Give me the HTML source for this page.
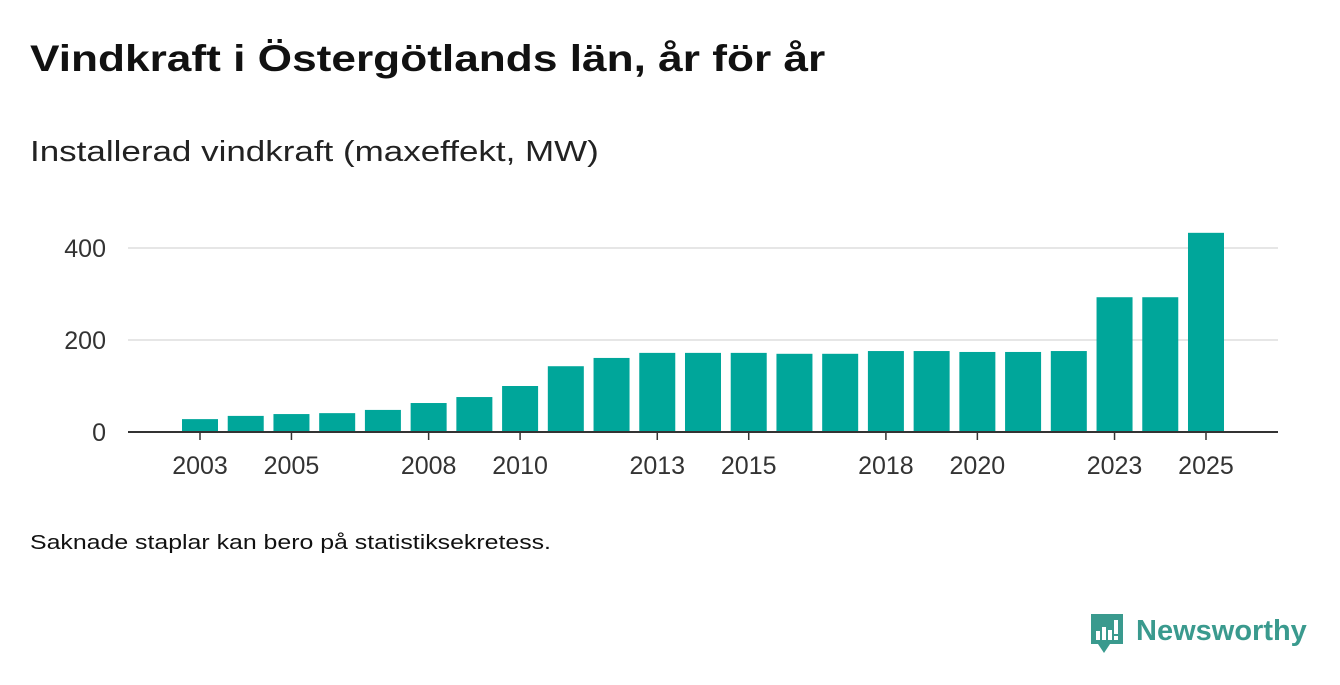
<!DOCTYPE html>
<html><head><meta charset="utf-8"><style>
body{margin:0;width:1340px;height:685px;background:#fff;font-family:"Liberation Sans",sans-serif;position:relative;overflow:hidden;color:#111}
#title{position:absolute;left:30px;top:38px;font-size:37px;font-weight:bold;margin:0;transform:scaleX(1.195);transform-origin:0 0;white-space:nowrap}
#sub{position:absolute;left:30px;top:136px;font-size:29px;color:#222;transform:scaleX(1.206);transform-origin:0 0;white-space:nowrap}
#note{position:absolute;left:30px;top:532px;font-size:20px;color:#111;transform:scaleX(1.243);transform-origin:0 0;white-space:nowrap}
#logo{position:absolute;left:1089px;top:612px}
</style></head><body>
<h1 id="title">Vindkraft i Östergötlands län, år för år</h1>
<div id="sub">Installerad vindkraft (maxeffekt, MW)</div>
<svg id="chart" width="1340" height="685" style="position:absolute;left:0;top:0"></svg>
<div id="note">Saknade staplar kan bero på statistiksekretess.</div>
<svg id="logo" width="230" height="45">
<path d="M2 2h32v30h-13l-6 9-6-9h-7z" fill="#3a9a8e"/>
<rect x="7" y="19" width="4" height="9" fill="#fff"/><rect x="13" y="15" width="4" height="13" fill="#fff"/><rect x="19" y="18" width="4" height="10" fill="#fff"/><rect x="25" y="8" width="4" height="14" fill="#fff"/><rect x="25" y="24" width="4" height="4" fill="#fff"/>
<text x="47" y="28" font-family="Liberation Sans" font-size="29" font-weight="bold" fill="#3a9a8e">Newsworthy</text>
</svg>
<script>
const years=[2003,2004,2005,2006,2007,2008,2009,2010,2011,2012,2013,2014,2015,2016,2017,2018,2019,2020,2021,2022,2023,2024,2025];
const values=[28,35,39,41,48,63,76,100,143,161,172,172,172,170,170,176,176,174,174,176,293,293,433];
const yTicks=[0,200,400];
const xLabels=[2003,2005,2008,2010,2013,2015,2018,2020,2023,2025];
const svg=document.getElementById('chart');
const NS='http://www.w3.org/2000/svg';
const y=v=>432-v*0.46;
const x=yr=>200+(yr-2003)*45.727;
function mk(t,a){const e=document.createElementNS(NS,t);for(const k in a)e.setAttribute(k,a[k]);svg.appendChild(e);return e;}
yTicks.forEach(t=>{
 if(t>0){const g=mk('line',{x1:128,x2:1278,y1:y(t),y2:y(t),stroke:'#ddd','stroke-width':1.5});
 
 }
 const l=mk('text',{x:106,y:y(t)+9,'text-anchor':'end','font-size':25,fill:'#333','font-family':'Liberation Sans'});
 l.textContent=t;
 
 
});
years.forEach((yr,i)=>{
 const b=mk('rect',{x:x(yr)-18,y:y(values[i]),width:36,height:432-y(values[i]),fill:'#00a69a'});
 
 
});
const ax=mk('line',{x1:128,x2:1278,y1:432,y2:432,stroke:'#333','stroke-width':2});


xLabels.forEach(yr=>{
 const t=mk('line',{x1:x(yr),x2:x(yr),y1:432,y2:440,stroke:'#333','stroke-width':1.5});
 
 
 const l=mk('text',{x:x(yr),y:474,'text-anchor':'middle','font-size':25,fill:'#333','font-family':'Liberation Sans'});
 l.textContent=yr;
 
 
});
</script>
</body></html>
